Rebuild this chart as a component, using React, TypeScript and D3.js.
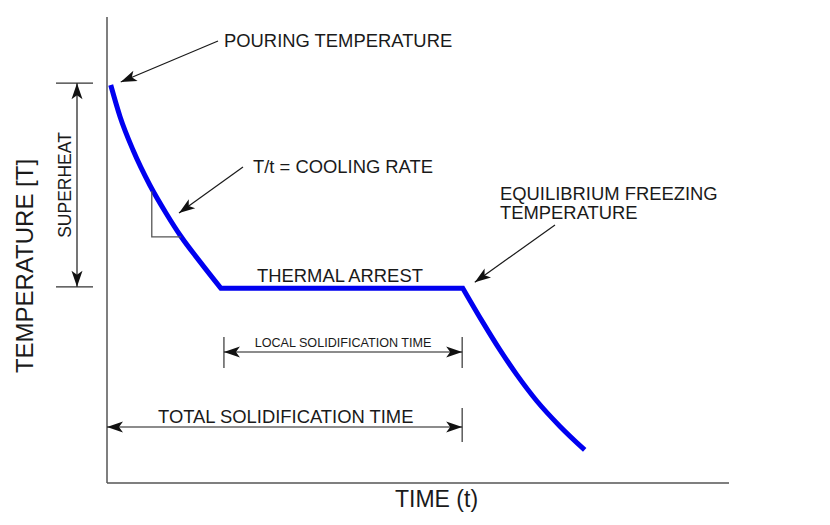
import React from 'react';
import * as d3 from 'd3';

// cooling curve (time and temperature in arbitrary 0-100 units)
const liquidTime = [0.6, 2.1, 4.2, 6.9, 9.5, 11.9, 15.0, 18.3];
const liquidTemp = [85.4, 78.6, 71.4, 63.9, 57.9, 52.9, 47.4, 41.8];
const solidTime = [57.2, 60.5, 63.2, 65.9, 69.1, 72.8, 76.8];
const solidTemp = [41.8, 34.3, 28.5, 23.2, 17.6, 12.2, 7.1];

// key events on the curve
const pouringTemp = 85.8;
const arrestTemp = 42.1;
const localStart = 18.8;
const solidEnd = 57.1;

const labels = {
    pouring: 'POURING TEMPERATURE',
    superheat: 'SUPERHEAT',
    yTitle: 'TEMPERATURE [T]',
    xTitle: 'TIME (t)',
    rate: 'T/t = COOLING RATE',
    equilibrium: ['EQUILIBRIUM FREEZING', 'TEMPERATURE'],
    arrest: 'THERMAL ARREST',
    local: 'LOCAL SOLIDIFICATION TIME',
    total: 'TOTAL SOLIDIFICATION TIME'
};

const W = 830;
const H = 525;
const FONT = '"Liberation Sans", Arial, sans-serif';
const INK = '#1a1a1a';
const AXIS = '#555';

export default function App() {
    const x = d3.scaleLinear().domain([0, 100]).range([107, 729]);
    const y = d3.scaleLinear().domain([0, 100]).range([483, 17]);

    const line = d3.line<[number, number]>()
        .x(d => x(d[0]))
        .y(d => y(d[1]))
        .curve(d3.curveMonotoneX);

    const liquid: [number, number][] = liquidTime.map((t, i) => [t, liquidTemp[i]]);
    const solid: [number, number][] = solidTime.map((t, i) => [t, solidTemp[i]]);
    // join the two curved parts with the straight thermal arrest
    const curvePath = (line(liquid) ?? '') + (line(solid) ?? '').replace(/^M/, 'L');

    const x0 = x(0);
    const yTop = y(pouringTemp);
    const yArrest = y(arrestTemp);
    const xLocal = x(localStart);
    const xEnd = x(solidEnd);

    // cooling-rate triangle sits on the curve
    const triTop = y(62.6);
    const triBottom = y(52.8);
    const triLeft = x(7.2);
    const triRight = x(11.9);

    const arrowLine = { stroke: INK, strokeWidth: 1.2, fill: 'none' } as const;
    const tick = { stroke: '#333', strokeWidth: 1.2 } as const;
    const txt = { fontFamily: FONT, fill: INK } as const;

    return (
        <svg width={W} height={H} style={{ position: 'absolute', left: 0, top: 0, background: '#fff' }}>
            <defs>
                <marker id="arr" viewBox="-17 -6 18 12" refX="0" refY="0"
                    markerWidth="18" markerHeight="12" markerUnits="userSpaceOnUse" orient="auto-start-reverse">
                    <path d="M0,0 L-16,-5.5 L-12,0 L-16,5.5 Z" fill="#111" />
                </marker>
            </defs>

            {/* axes */}
            <line x1={x0} y1={y(100)} x2={x0} y2={y(0)} stroke={AXIS} strokeWidth={1.5} />
            <line x1={x0} y1={y(0)} x2={x(100)} y2={y(0)} stroke={AXIS} strokeWidth={1.5} />

            {/* cooling curve */}
            <path d={curvePath} fill="none" stroke="#0000f0" strokeWidth={5} />

            {/* pouring temperature */}
            <line x1={218} y1={41} x2={x(liquidTime[0]) + 10} y2={y(liquidTemp[0]) - 3}
                style={arrowLine} markerEnd="url(#arr)" />
            <text x={224} y={47} fontSize={18.4} style={txt}>{labels.pouring}</text>

            {/* superheat dimension */}
            <line x1={x0 - 51} y1={yTop} x2={x0 - 14} y2={yTop} style={tick} />
            <line x1={x0 - 51} y1={yArrest} x2={x0 - 14} y2={yArrest} style={tick} />
            <line x1={x0 - 30} y1={yTop} x2={x0 - 30} y2={yArrest}
                style={arrowLine} markerStart="url(#arr)" markerEnd="url(#arr)" />
            <text transform={`translate(71,${(yTop + yArrest) / 2}) rotate(-90)`} textAnchor="middle"
                fontSize={17.5} style={txt}>{labels.superheat}</text>

            {/* y title */}
            <text transform={`translate(33,266) rotate(-90)`} textAnchor="middle"
                fontSize={24} style={txt}>{labels.yTitle}</text>

            {/* cooling rate */}
            <polyline points={`${triLeft},${triTop} ${triLeft},${triBottom} ${triRight},${triBottom}`}
                fill="none" stroke="#555" strokeWidth={1.3} />
            <line x1={243} y1={167} x2={179} y2={213} style={arrowLine} markerEnd="url(#arr)" />
            <text x={253} y={173} fontSize={18.4} style={txt}>{labels.rate}</text>

            {/* equilibrium freezing temperature */}
            <text x={500} y={200} fontSize={18.4} style={txt}>{labels.equilibrium[0]}</text>
            <text x={500} y={219} fontSize={18.4} style={txt}>{labels.equilibrium[1]}</text>
            <line x1={555} y1={225} x2={x(solidTime[0]) + 12} y2={y(solidTemp[0]) - 6}
                style={arrowLine} markerEnd="url(#arr)" />

            {/* thermal arrest */}
            <text x={257} y={282} fontSize={18.4} style={txt}>{labels.arrest}</text>

            {/* local solidification time */}
            <line x1={xLocal} y1={337} x2={xLocal} y2={368} style={tick} />
            <line x1={xEnd} y1={337} x2={xEnd} y2={368} style={tick} />
            <line x1={xLocal} y1={352} x2={xEnd} y2={352}
                style={arrowLine} markerStart="url(#arr)" markerEnd="url(#arr)" />
            <text x={(xLocal + xEnd) / 2} y={347} textAnchor="middle" fontSize={12.6} style={txt}>{labels.local}</text>

            {/* total solidification time */}
            <line x1={xEnd} y1={408} x2={xEnd} y2={442} style={tick} />
            <line x1={x0} y1={427} x2={xEnd} y2={427}
                style={arrowLine} markerStart="url(#arr)" markerEnd="url(#arr)" />
            <text x={158} y={423} fontSize={18.4} style={txt}>{labels.total}</text>

            {/* x title */}
            <text x={395} y={507} fontSize={23} style={txt}>{labels.xTitle}</text>
        </svg>
    );
}
